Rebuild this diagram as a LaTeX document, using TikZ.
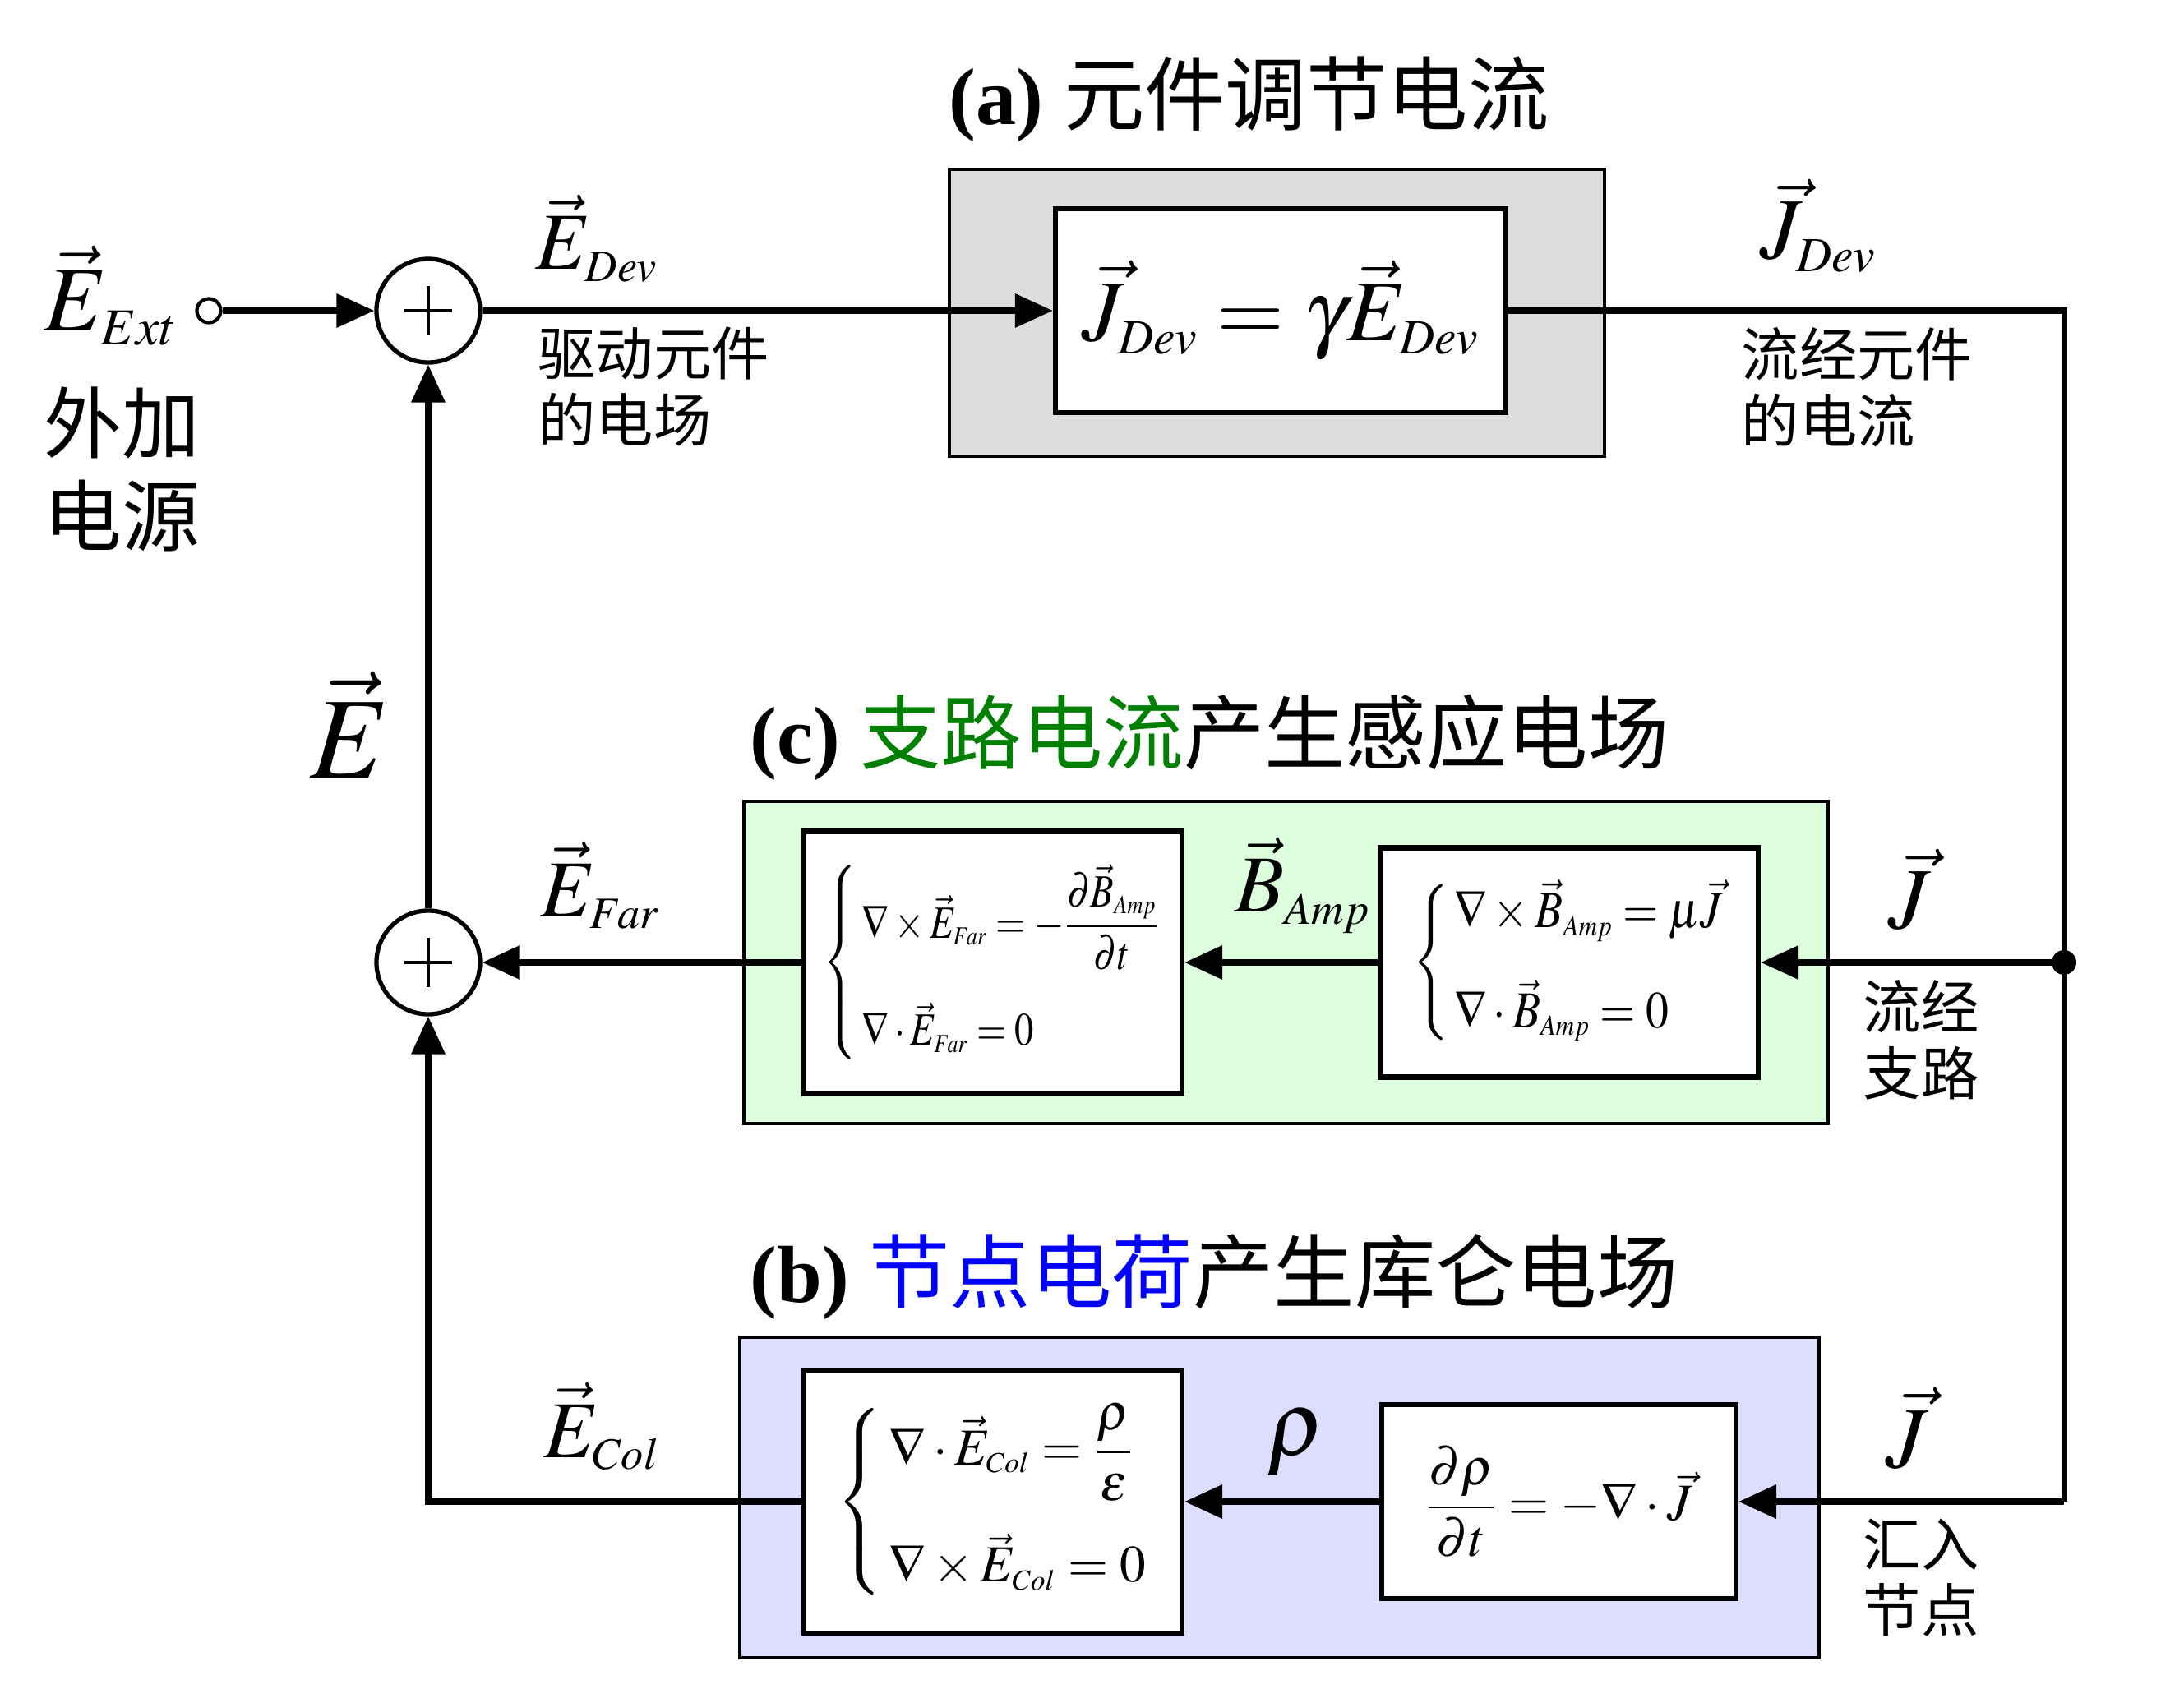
\documentclass[tikz,border=0pt]{standalone}
\usepackage{amsmath}
\usepackage{graphicx}
\usepackage{mathptmx}
\usepackage{fontspec}
\setmainfont{Liberation Serif}
\newfontfamily\cjk{Noto Sans CJK SC}
\usetikzlibrary{arrows.meta, positioning}
\DeclareMathSizes{16}{16}{9}{7}
\DeclareMathSizes{18}{18}{10}{8}
\DeclareMathSizes{28}{28}{15.5}{12}
\DeclareMathSizes{30}{30}{17}{13}
\DeclareMathSizes{32}{32}{18}{14}
\DeclareMathSizes{40}{40}{22}{16}
\definecolor{GrayFill}{RGB}{221, 221, 221}
\definecolor{GreenFill}{RGB}{221, 255, 221}
\definecolor{BlueFill}{RGB}{221, 221, 255}
\definecolor{TitleGreen}{RGB}{0, 128, 0}
\definecolor{TitleBlue}{RGB}{0, 0, 255}
\tikzset{
    outerbox/.style={
        rectangle, draw, line width=1.2pt, inner sep=0pt
    },
    eqbox/.style={
        rectangle, draw, fill=white, line width=1.8pt, inner sep=0pt, align=center
    },
    sumnode/.style={
        circle, draw, fill=white, line width=1.5pt, minimum size=1.26cm, inner sep=0pt,
        path picture={
            \draw[line width=1.1pt] ([xshift=-2.9mm]path picture bounding box.center) -- ([xshift=2.9mm]path picture bounding box.center)
                ([yshift=-3mm]path picture bounding box.center) -- ([yshift=3mm]path picture bounding box.center);
        }
    },
    arrow/.style={-{Triangle[length=4.6mm, width=4mm]}, line width=2pt},
    wire/.style={line width=2pt},
    titletext/.style={font=\fontsize{28}{30}\selectfont, inner sep=0pt},
    cjklabel/.style={font=\cjk\fontsize{20}{23}\selectfont, align=left, inner sep=0pt},
    mathlabel/.style={font=\fontsize{28}{30}\selectfont, inner sep=0pt},
    mathmid/.style={font=\fontsize{30}{32}\selectfont, inner sep=0pt},
    mathbig/.style={font=\fontsize{32}{34}\selectfont, inner sep=0pt},
}

\begin{document}
\begin{tikzpicture}
    \useasboundingbox (0,0) rectangle (26.57,20.71);

    % Titles
    \node[titletext, anchor=base west] (titlea) at (11.54,19.19) {{\bfseries (a)} {\cjk 元件调节电流}};
    \node[titletext, anchor=base west] (titlec) at (9.12,11.42) {{\bfseries (c)} {\cjk\color{TitleGreen}支路电流}{\cjk 产生感应电场}};
    \node[titletext, anchor=base west] (titleb) at (9.12,4.86) {{\bfseries (b)} {\cjk\color{TitleBlue}节点电荷}{\cjk 产生库仑电场}};

    % (a) device
    \node[outerbox, fill=GrayFill, minimum width=7.97cm, minimum height=3.49cm] (devouter) at (15.535,16.905) {};
    \node[eqbox, minimum width=5.48cm, minimum height=2.48cm, font=\fontsize{30}{32}\selectfont] (devbox) at (15.58,16.93) {$\vec{J}_{Dev}=\gamma\vec{E}_{Dev}$};

    % (c) branch current
    \node[outerbox, fill=GreenFill, minimum width=13.19cm, minimum height=3.92cm] (indouter) at (15.645,9.0) {};
    \node[eqbox, minimum width=4.6cm, minimum height=3.19cm, font=\fontsize{16}{18}\selectfont] (farbox) at (12.08,9.0)
        {\scalebox{0.83}[1]{$\left\{\begin{array}{@{\,}l@{}}\nabla\times\vec{E}_{Far}=-\dfrac{\partial\vec{B}_{Amp}}{\partial t}\\[17pt]\nabla\cdot\vec{E}_{Far}=0\end{array}\right.$}};
    \node[eqbox, minimum width=4.6cm, minimum height=2.79cm, font=\fontsize{18}{20}\selectfont] (ampbox) at (19.09,9.0)
        {\scalebox{0.88}[1]{$\left\{\begin{array}{@{\,}l@{}}\nabla\times\vec{B}_{Amp}=\mu\vec{J}\\[12pt]\nabla\cdot\vec{B}_{Amp}=0\end{array}\right.$}};

    % (b) node charge
    \node[outerbox, fill=BlueFill, minimum width=13.13cm, minimum height=3.9cm] (colouter) at (15.565,2.49) {};
    \node[eqbox, minimum width=4.6cm, minimum height=3.2cm, font=\fontsize{18}{20}\selectfont] (colbox) at (12.08,2.44)
        {$\left\{\begin{array}{@{\,}l@{}}\nabla\cdot\vec{E}_{Col}=\dfrac{\rho}{\varepsilon}\\[18pt]\nabla\times\vec{E}_{Col}=0\end{array}\right.$};
    \node[eqbox, minimum width=4.31cm, minimum height=2.36cm, font=\fontsize{18}{20}\selectfont] (contbox) at (18.965,2.44)
        {$\dfrac{\partial\rho}{\partial t}=-\nabla\cdot\vec{J}$};

    % Summing points and source
    \node[sumnode] (sumtop) at (5.21,16.93) {};
    \node[sumnode] (summid) at (5.21,9.0) {};
    \node[circle, draw, fill=white, line width=1.2pt, minimum size=0.29cm, inner sep=0pt] (ext) at (2.54,16.93) {};
    \coordinate (corner) at (25.11,2.44);

    % Connectors
    \draw[arrow] (ext) -- (sumtop);
    \draw[arrow] (sumtop) -- (devbox);
    \draw[wire] (devbox.east) -| (corner);
    \node[circle, fill, minimum size=0.3cm, inner sep=0pt] (junction) at (25.11,9.0) {};
    \draw[arrow] (junction.center) -- (ampbox);
    \draw[arrow] (corner) -- (contbox);
    \draw[arrow] (ampbox) -- (farbox);
    \draw[arrow] (contbox) -- (colbox);
    \draw[arrow] (farbox) -- (summid);
    \draw[arrow] (colbox.west) -| (summid.south);
    \draw[arrow] (summid) -- (sumtop);

    % Labels
    \node[mathbig, anchor=base] (eextlabel) at (1.35,16.68) {$\vec{E}_{Ext}$};
    \node[font=\cjk\fontsize{27}{32}\selectfont, align=left, inner sep=0pt] (extsource) at (1.48,15.0) {外加\\电源};
    \node[mathlabel, anchor=base] (edevlabel) at (7.26,17.43) {$\vec{E}_{Dev}$};
    \node[cjklabel, anchor=west] (edevtext) at (6.54,16.01) {驱动元件\\的电场};
    \node[mathmid, anchor=base] (jdevlabel) at (22.12,17.56) {$\vec{J}_{Dev}$};
    \node[cjklabel, anchor=west] (jdevtext) at (21.18,16.0) {流经元件\\的电流};
    \node[font=\fontsize{40}{42}\selectfont, inner sep=0pt, anchor=base] (elabel) at (4.26,11.24) {$\vec{E}$};
    \node[mathlabel, anchor=base] (efarlabel) at (7.30,9.56) {$\vec{E}_{Far}$};
    \node[mathlabel, anchor=base] (bamplabel) at (15.85,9.61) {$\vec{B}_{Amp}$};
    \node[mathmid, anchor=base] (jmidlabel) at (23.23,9.41) {$\vec{J}$};
    \node[cjklabel] (branchtext) at (23.37,8.06) {流经\\支路};
    \node[mathlabel, anchor=base] (ecollabel) at (7.32,2.98) {$\vec{E}_{Col}$};
    \node[mathbig, anchor=base] (rholabel) at (15.77,3.01) {$\rho$};
    \node[mathmid, anchor=base] (jbotlabel) at (23.20,2.86) {$\vec{J}$};
    \node[cjklabel] (nodetext) at (23.37,1.515) {汇入\\节点};
\end{tikzpicture}
\end{document}
